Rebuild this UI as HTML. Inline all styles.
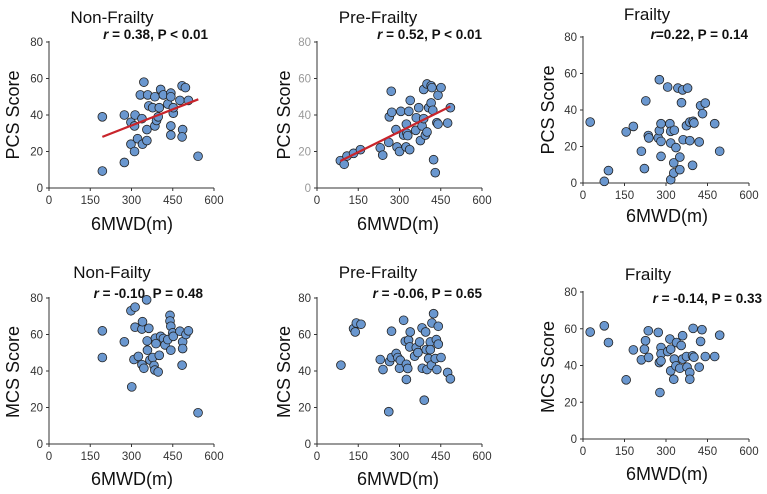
<!DOCTYPE html>
<html><head><meta charset="utf-8"><style>
body{margin:0;background:#fff;width:767px;height:494px;overflow:hidden}
svg{display:block;font-family:"Liberation Sans",Arial,sans-serif}
</style></head><body>
<svg id="chart" width="767" height="494" viewBox="0 0 767 494"></svg>
<script>
const xTicks=[0,150,300,450,600];
const yTicks=[0,20,40,60,80];
const p1x=[194,194,274,274,298,313,311,338,298,311,322,340,345,332,359,363,377,385,356,356,385,391,397,401,406,416,432,443,443,443,443,452,452,476,484,496,507,486,484,542];
const p1y=[39,9.3,40,14,36,40,34,38,24,20,27,24,58,51,51,45,44,50,32,26,34,37,39,44,54,51,46,52,50,34,29,41,44,48,56,55,48,32,28,17.4];
const p1fit=[[194,28],[543,48.6]];
const p2x=[85,99,109,133,158,230,239,261,263,272,270,287,291,300,305,315,325,327,330,324,334,337,339,359,361,370,376,382,388,394,400,388,400,406,415,418,415,421,424,430,436,440,440,451,475,485];
const p2y=[15,13,17.5,19,21,22,18,25,39,41.5,53,32,22.5,20,42,29,35,30,28.7,22.5,42,21,48,31.6,38.5,44,26,34,38,29,30.7,54,57,44,56,55,46.6,42.6,15.5,8.4,35.8,35,50.8,55,35.6,44];
const p2fit=[[85,14.8],[485,44.7]];
const p3x=[26,77,92,156,182,211,222,227,236,238,272,276,276,282,282,282,306,314,317,317,330,317,328,328,336,343,350,350,356,360,362,374,378,386,386,398,401,396,420,425,432,442,476,494];
const p3y=[33.4,0.9,6.8,28,31,17.4,7.9,45,26,24.7,24.7,56.6,28.7,32.5,22.8,14.6,52.6,32.5,28.3,21.9,28.9,1.8,11,5.5,19.4,52,14.2,7.3,44,51,23.7,31.4,52,33.4,23.2,33.8,32.9,9.7,22.5,42.4,38,43.8,32.5,17.4];
const p4x=[194,194,274,298,313,355,313,338,340,363,357,358,309,325,338,345,367,377,382,387,389,385,397,401,406,416,422,432,440,440,443,443,450,452,476,486,486,484,498,507,301,542];
const p4y=[62,47.4,56,73,75,79,64,63,67,63.4,56.5,51.4,46.3,48,43.5,41.5,46,47.4,43,58,55,40.5,39.5,48.6,59,57.8,54.3,57.2,70.5,67.4,64.5,51.4,60.9,59,61.8,56,52.3,43.2,60,62,31.3,17.1];
const p5x=[87,133,139,143,160,230,240,261,264,271,271,288,294,300,303,315,321,325,325,330,333,337,339,355,361,367,373,382,383,390,395,397,400,406,412,412,416,418,424,430,434,436,441,441,451,475,485];
const p5y=[43.2,63.2,61.4,66.3,65.6,46.3,40.8,17.7,45.2,61.8,47.4,49.6,47.4,41.5,45.9,67.8,56.3,35.4,43.7,41.4,56.9,53.2,61.4,48.1,52.8,50.1,55.9,63.6,41.5,24,61.4,51.7,40.8,46.8,55.9,51.7,43.2,66.3,71.4,46.8,57.2,40.8,64.5,54.7,47.4,39.2,35.7];
const p6x=[26,77,92,156,182,211,222,226,236,237,272,276,278,282,282,282,306,314,317,317,330,328,336,338,350,355,360,360,374,376,386,386,396,398,401,420,425,430,442,476,494];
const p6y=[58.2,61.6,52.5,32.2,48.5,43.1,48.9,53.5,58.9,44.4,58,41.6,25.3,49.8,46.4,42.5,47.6,54.4,48.9,37.1,43.5,32.5,39.8,52.5,38.5,50.9,56.2,43.5,44.9,39.1,36.2,32.5,45.3,60.2,44.5,39.1,53.1,59.5,44.9,44.9,56.5];

const panels=[
 {id:'pcs-nonfrailty',xs:p1x,ys:p1y,fit:p1fit,x0:49,x1:214,y0:188,y1:42,title:'Non-Frailty',tx:112,ty:23,r:' = 0.38, P < 0.01',rx:208,ry:39,yt:'PCS Score',ytx:19,yty:115,xtx:132,xty:230,ytc:'#333'},
 {id:'pcs-prefrailty',xs:p2x,ys:p2y,fit:p2fit,x0:317,x1:482,y0:188,y1:42,title:'Pre-Frailty',tx:378,ty:23,r:' = 0.52, P < 0.01',rx:482,ry:39,yt:'PCS Score',ytx:290,yty:115,xtx:398,xty:230,ytc:'#999'},
 {id:'pcs-frailty',xs:p3x,ys:p3y,fit:null,x0:583,x1:749,y0:183,y1:37,title:'Frailty',tx:647,ty:20,r:'=0.22, P = 0.14',rx:748,ry:39,yt:'PCS Score',ytx:554,yty:110,xtx:667,xty:222,ytc:'#333'},
 {id:'mcs-nonfrailty',xs:p4x,ys:p4y,fit:null,x0:49,x1:214,y0:444,y1:298,title:'Non-Failty',tx:112,ty:278,r:' = -0.10, P = 0.48',rx:203,ry:298,yt:'MCS Score',ytx:19,yty:372,xtx:132,xty:485,ytc:'#333'},
 {id:'mcs-prefrailty',xs:p5x,ys:p5y,fit:null,x0:317,x1:482,y0:444,y1:298,title:'Pre-Frailty',tx:378,ty:278,r:' = -0.06, P = 0.65',rx:482,ry:298,yt:'MCS Score',ytx:290,yty:372,xtx:398,xty:485,ytc:'#333'},
 {id:'mcs-frailty',xs:p6x,ys:p6y,fit:null,x0:583,x1:749,y0:439,y1:292,title:'Frailty',tx:648,ty:280,r:' = -0.14, P = 0.33',rx:762,ry:303,yt:'MCS Score',ytx:554,yty:367,xtx:667,xty:480,ytc:'#333'}
];
const svg=document.getElementById('chart');
const NS='http://www.w3.org/2000/svg';
function mk(tag,attrs,parent,text){const e=document.createElementNS(NS,tag);for(const k in attrs)e.setAttribute(k,attrs[k]);if(text!==undefined)e.textContent=text;parent.appendChild(e);return e;}
panels.forEach(p=>{
 const sx=v=>p.x0+(v-0)/600*(p.x1-p.x0);
 const sy=v=>p.y0+(v-0)/80*(p.y1-p.y0);
 const g=mk('g',{},svg);
 
 
 const t=mk('text',{x:p.tx,y:p.ty,'text-anchor':'middle','font-size':17,fill:'#111'},g,p.title);
 
 
 const rt=mk('text',{x:p.rx,y:p.ry,'text-anchor':'end','font-size':13.5,'font-weight':'bold',fill:'#111'},g);
 
 
 mk('tspan',{'font-style':'italic'},rt,'r');
 mk('tspan',{},rt,p.r);
 const ax=mk('path',{d:`M${p.x0},${p.y1-1}V${p.y0}H${p.x1}`,stroke:'#333',fill:'none','stroke-width':1},g);
 
 
 xTicks.forEach(v=>{
  mk('line',{x1:sx(v),x2:sx(v),y1:p.y0,y2:p.y0+3,stroke:'#333'},g);
  const l=mk('text',{x:sx(v),y:p.y0+16,'text-anchor':'middle','font-size':11.5,fill:'#333'},g,v);
  
  
 });
 yTicks.forEach(v=>{
  mk('line',{x1:p.x0-3,x2:p.x0,y1:sy(v),y2:sy(v),stroke:'#333'},g);
  const l=mk('text',{x:p.x0-6,y:sy(v)+4,'text-anchor':'end','font-size':11.5,fill:p.ytc},g,v);
  
  
 });
 const yl=mk('text',{x:p.ytx,y:p.yty,'text-anchor':'middle','font-size':18,fill:'#111',transform:`rotate(-90 ${p.ytx} ${p.yty})`},g,p.yt);
 
 
 const xl=mk('text',{x:p.xtx,y:p.xty,'text-anchor':'middle','font-size':18,fill:'#111'},g,'6MWD(m)');
 
 
 p.xs.forEach((v,i)=>{
  const c=mk('circle',{cx:sx(v),cy:sy(p.ys[i]),r:4.4,fill:'#6a97cf',stroke:'#222','stroke-width':0.8},g);
  
  
 });
 if(p.fit){
  const f=mk('line',{x1:sx(p.fit[0][0]),y1:sy(p.fit[0][1]),x2:sx(p.fit[1][0]),y2:sy(p.fit[1][1]),stroke:'#c8242b','stroke-width':2.2},g);
  
  
 }
});
</script>
</body></html>
